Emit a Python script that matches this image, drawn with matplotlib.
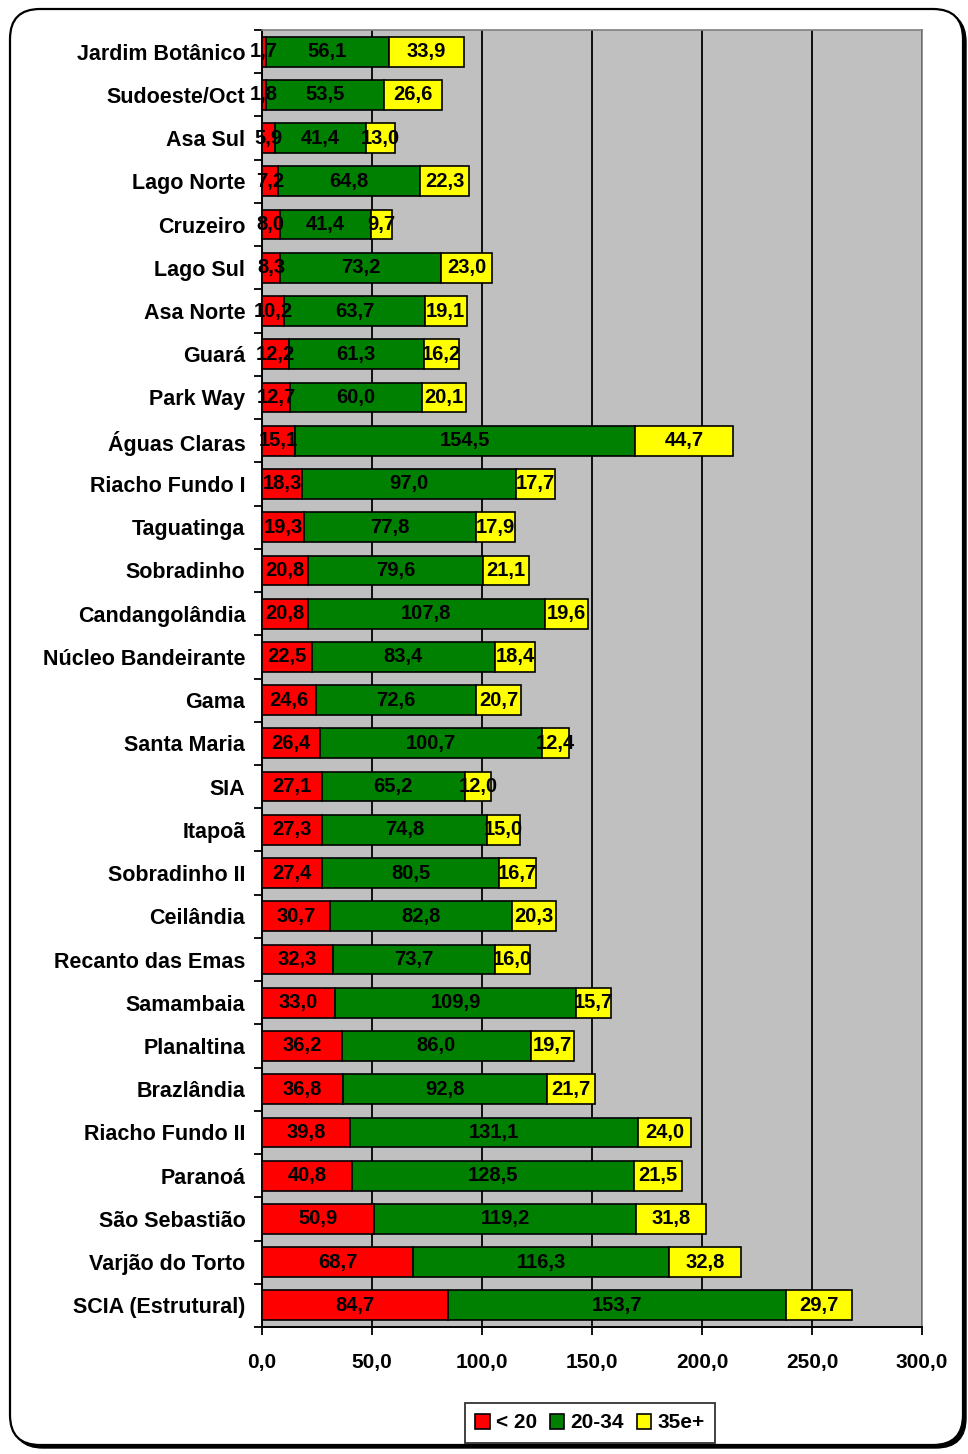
import numpy as np
import matplotlib
matplotlib.use('Agg')
import matplotlib.pyplot as plt
from matplotlib.patches import FancyBboxPatch

plt.rcParams['font.family'] = ['Liberation Sans', 'DejaVu Sans']
plt.rcParams['font.weight'] = 'bold'

# population by age group per region
regions = ['Jardim Botânico', 'Sudoeste/Oct', 'Asa Sul', 'Lago Norte', 'Cruzeiro',
           'Lago Sul', 'Asa Norte', 'Guará', 'Park Way', 'Águas Claras',
           'Riacho Fundo I', 'Taguatinga', 'Sobradinho', 'Candangolândia',
           'Núcleo Bandeirante', 'Gama', 'Santa Maria', 'SIA', 'Itapoã',
           'Sobradinho II', 'Ceilândia', 'Recanto das Emas', 'Samambaia',
           'Planaltina', 'Brazlândia', 'Riacho Fundo II', 'Paranoá',
           'São Sebastião', 'Varjão do Torto', 'SCIA (Estrutural)']
under20 = [1.7, 1.8, 5.9, 7.2, 8.0, 8.3, 10.2, 12.2, 12.7, 15.1, 18.3, 19.3, 20.8, 20.8,
           22.5, 24.6, 26.4, 27.1, 27.3, 27.4, 30.7, 32.3, 33.0, 36.2, 36.8, 39.8,
           40.8, 50.9, 68.7, 84.7]
age20_34 = [56.1, 53.5, 41.4, 64.8, 41.4, 73.2, 63.7, 61.3, 60.0, 154.5, 97.0, 77.8,
            79.6, 107.8, 83.4, 72.6, 100.7, 65.2, 74.8, 80.5, 82.8, 73.7, 109.9, 86.0,
            92.8, 131.1, 128.5, 119.2, 116.3, 153.7]
age35plus = [33.9, 26.6, 13.0, 22.3, 9.7, 23.0, 19.1, 16.2, 20.1, 44.7, 17.7, 17.9,
             21.1, 19.6, 18.4, 20.7, 12.4, 12.0, 15.0, 16.7, 20.3, 16.0, 15.7, 19.7,
             21.7, 24.0, 21.5, 31.8, 32.8, 29.7]
series_names = ['< 20', '20-34', '35e+']
series_colors = ['#FF0000', '#008000', '#FFFF00']
xticks = [0, 50, 100, 150, 200, 250, 300]


def fmt(v):
    return ('%.1f' % v).replace('.', ',')


fig = plt.figure(figsize=(9.68, 14.54), dpi=100)

# rounded outer frame with shadow
shadow = FancyBboxPatch((0.13, 0.06), 9.53, 14.36,
                        boxstyle='round,pad=0,rounding_size=0.3',
                        transform=fig.dpi_scale_trans, facecolor='black',
                        edgecolor='black', zorder=-3)
frame = FancyBboxPatch((0.10, 0.09), 9.53, 14.36,
                       boxstyle='round,pad=0,rounding_size=0.3',
                       transform=fig.dpi_scale_trans, facecolor='white',
                       edgecolor='black', linewidth=1.6, zorder=-2)
fig.patches.extend([shadow, frame])

ax = fig.add_axes([262 / 968, 1 - 1327 / 1454, 660 / 968, 1297 / 1454])
ax.set_facecolor('#C0C0C0')

y = np.arange(len(regions))
left = np.zeros(len(regions))
all_labels = []
for vals, name, col in zip([under20, age20_34, age35plus], series_names, series_colors):
    bars = ax.barh(y, vals, left=left, height=0.69, color=col, edgecolor='black',
                   linewidth=1.2, label=name, zorder=3)
    all_labels += ax.bar_label(bars, labels=[fmt(v) for v in vals], label_type='center',
                               fontsize=14.5, fontweight='bold', color='black')
    left = left + np.array(vals)
for t in all_labels:
    t.set_zorder(6)
    t.set_clip_on(False)

ax.set_xlim(0, 300)
ax.set_ylim(len(regions) - 0.5, -0.5)
ax.set_xticks(xticks)
ax.set_xticklabels([fmt(v) for v in xticks], fontsize=15, fontweight='bold')
ax.tick_params(axis='x', length=6, width=1.3, pad=13, color='black')

ax.set_yticks(y)
ax.set_yticklabels(regions, fontsize=15.5, fontweight='bold')
ax.tick_params(axis='y', which='major', length=0, pad=12)
ax.set_yticks(np.arange(-0.5, len(regions), 1), minor=True)
ax.tick_params(axis='y', which='minor', length=6, width=1.3, color='black')

ax.xaxis.grid(True, color='black', linewidth=1.3, zorder=1)
ax.set_axisbelow(True)
for s in ['left', 'bottom']:
    ax.spines[s].set_color('black')
    ax.spines[s].set_linewidth(1.4)
for s in ['top', 'right']:
    ax.spines[s].set_color('#808080')
    ax.spines[s].set_linewidth(1.2)

leg = ax.legend(loc='center', bbox_to_anchor=(590 / 968, 1 - 1423 / 1454),
                bbox_transform=fig.transFigure, ncol=3, frameon=True, fancybox=False,
                handlelength=0.7, handleheight=0.7, handletextpad=0.3, columnspacing=0.6,
                borderpad=0.5, prop={'weight': 'bold', 'size': 15})
leg.get_frame().set_edgecolor('black')
leg.get_frame().set_linewidth(1.3)

fig.savefig('out.png', dpi=100)
